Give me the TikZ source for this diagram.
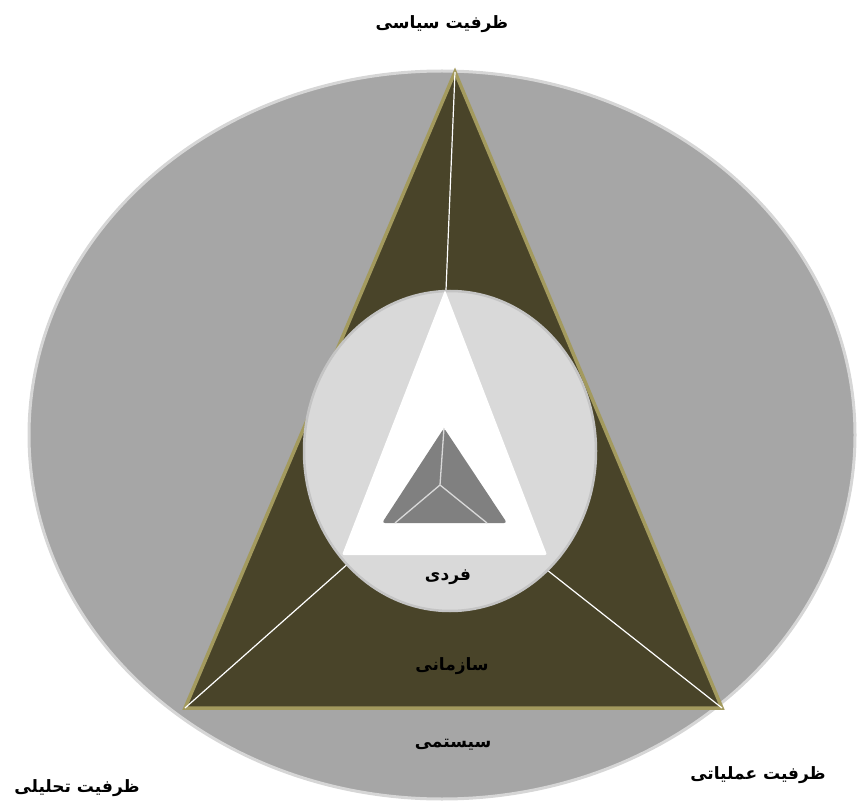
\documentclass[tikz,border=0pt]{standalone}
\usepackage{fontspec}
\newfontfamily\arabicfont[Script=Arabic]{DejaVu Sans}
\TeXXeTstate=1
\definecolor{outerfill}{HTML}{A6A6A6}
\definecolor{outerborder}{HTML}{D6D6D6}
\definecolor{trifill}{HTML}{494429}
\definecolor{triborder}{HTML}{A39A5E}
\definecolor{innerfill}{HTML}{D9D9D9}
\definecolor{innerborder}{HTML}{C4C4C4}
\definecolor{smallfill}{HTML}{808080}
\tikzset{
  lbl/.style={font=\arabicfont\bfseries\fontsize{17}{20}\selectfont, text=black, inner sep=0pt},
  spoke/.style={draw=white, line width=1.2pt},
  smallspoke/.style={draw=innerfill, line width=1.3pt}
}
\begin{document}
\begin{tikzpicture}[x=1pt,y=-1pt]
\useasboundingbox (0,0) rectangle (857,802);
% outer ellipse
\fill[outerfill, draw=outerborder, line width=3pt] (442,435) ellipse [x radius=413, y radius=364];
% big triangle
\coordinate (A) at (455,72);
\coordinate (B) at (185,708);
\coordinate (C) at (722,708);
\coordinate (O) at (438,484);
\fill[trifill, draw=triborder, line width=3.5pt, line join=miter] (A) -- (B) -- (C) -- cycle;
\draw[spoke] (A) -- (O);
\draw[spoke] (B) -- (O);
\draw[spoke] (C) -- (O);
% inner ellipse
\fill[innerfill, draw=innerborder, line width=2.5pt] (450,451) ellipse [x radius=146, y radius=160];
% white triangle
\fill[white, rounded corners=2pt] (445,290) -- (342,555) -- (547,555) -- cycle;
% small triangle
\coordinate (a) at (444,428);
\coordinate (b) at (382,523);
\coordinate (c) at (507,523);
\coordinate (o) at (440,485);
\coordinate (ob) at (395,523);
\coordinate (oc) at (487,523);
\fill[smallfill, rounded corners=3pt] (a) -- (b) -- (c) -- cycle;
\draw[smallspoke] (o) -- (a);
\draw[smallspoke] (o) -- (ob);
\draw[smallspoke] (o) -- (oc);
% labels
\node[lbl] (top) at (442,24) {\beginR ظرفیت سیاسی\endR};
\node[lbl] (left) at (77,788) {\beginR ظرفیت تحلیلی\endR};
\node[lbl] (right) at (758,775) {\beginR ظرفیت عملیاتی\endR};
\node[lbl] (fardi) at (448,577) {\beginR فردی\endR};
\node[lbl] (sazmani) at (452,666) {\beginR سازمانی\endR};
\node[lbl] (systemi) at (453,745) {\beginR سیستمی\endR};
\end{tikzpicture}
\end{document}
